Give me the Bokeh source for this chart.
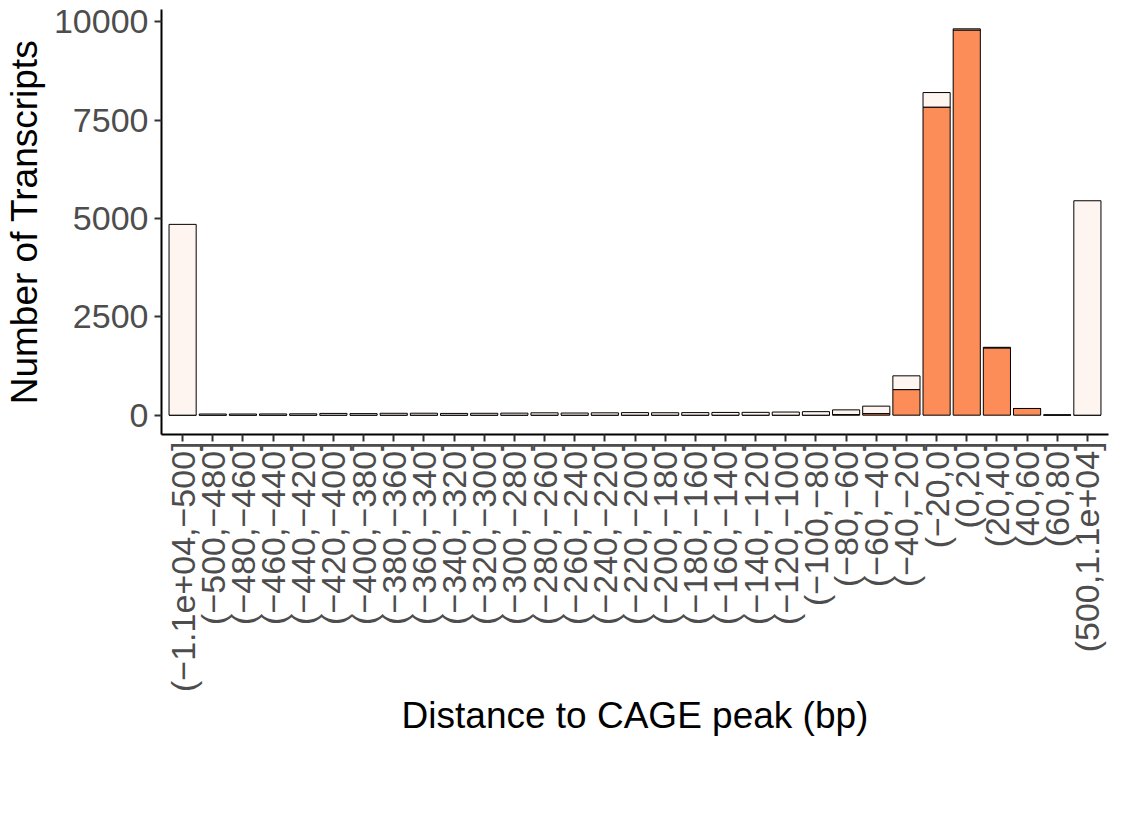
import math
from bokeh.plotting import figure
from bokeh.models import (ColumnDataSource, FactorRange, Range1d, FixedTicker,
                          Legend, LegendItem)
from bokeh.embed import file_html
from bokeh.resources import INLINE

# Distance bins (bp) relative to the nearest CAGE peak
bins = [
    "(−1.1e+04,−500]", "(−500,−480]", "(−480,−460]", "(−460,−440]",
    "(−440,−420]", "(−420,−400]", "(−400,−380]", "(−380,−360]",
    "(−360,−340]", "(−340,−320]", "(−320,−300]", "(−300,−280]",
    "(−280,−260]", "(−260,−240]", "(−240,−220]", "(−220,−200]",
    "(−200,−180]", "(−180,−160]", "(−160,−140]", "(−140,−120]",
    "(−120,−100]", "(−100,−80]", "(−80,−60]", "(−60,−40]",
    "(−40,−20]", "(−20,0]", "(0,20]", "(20,40]", "(40,60]", "(60,80]",
    "(500,1.1e+04]",
]

# Transcript counts per bin, split by whether the TSS lies inside a CAGE peak
false_counts = [4850, 30, 30, 32, 35, 45, 40, 48, 50, 45, 48, 52, 60, 55, 60,
                65, 62, 65, 70, 72, 80, 90, 120, 190, 350, 370, 30, 15, 0, 10,
                5450]
true_counts = [0, 0, 0, 0, 0, 0, 0, 0, 0, 0, 0, 0, 0, 0, 0,
               0, 0, 0, 0, 0, 0, 0, 15, 40, 650, 7830, 9790, 1710, 170, 0,
               0]

y_ticks = [0, 2500, 5000, 7500, 10000]
legend_title = "within_cage_peak"
legend_labels = ["False", "True"]
colors = {"False": "#FFF5F0", "True": "#FC8D59"}

FONT = "Liberation Sans"

src = ColumnDataSource(dict(bin=bins, false_n=false_counts, true_n=true_counts))

totals = [f + t for f, t in zip(false_counts, true_counts)]
ymax = max(totals)

p = figure(
    x_range=FactorRange(*bins, range_padding=0.2, range_padding_units="absolute"),
    y_range=Range1d(-0.05 * ymax, 1.05 * ymax),
    frame_width=947, frame_height=425,
    output_backend="svg", toolbar_location=None,
    min_border_left=160, min_border_right=14, min_border_top=9,
    min_border_bottom=0,
)
p.outline_line_color = None
p.background_fill_color = "white"
p.border_fill_color = "white"
p.xgrid.visible = False
p.ygrid.visible = False

rs = p.vbar_stack(
    ["true_n", "false_n"], x="bin", width=0.9, source=src,
    fill_color=[colors["True"], colors["False"]],
    line_color="black", line_width=1,
)
true_r, false_r = rs

# an empty renderer so the legend title can sit in line with the keys
title_r = p.vbar(x=[], top=[], width=0.9, fill_alpha=0, line_alpha=0)

# axes
for ax in (p.xaxis[0], p.yaxis[0]):
    ax.axis_line_color = "black"
    ax.axis_line_width = 2
    ax.major_tick_line_color = "#333333"
    ax.major_tick_line_width = 2
    ax.major_tick_out = 7
    ax.major_tick_in = 0
    ax.minor_tick_line_color = None
    ax.major_label_text_font = FONT
    ax.major_label_text_font_size = "34px"
    ax.major_label_text_color = "#4D4D4D"
    ax.axis_label_text_font = FONT
    ax.axis_label_text_font_size = "37px"
    ax.axis_label_text_font_style = "normal"
    ax.axis_label_text_color = "black"

p.yaxis.ticker = FixedTicker(ticks=y_ticks)
p.yaxis.axis_label = "Number of Transcripts"
p.yaxis.major_label_standoff = 6
p.yaxis.axis_label_standoff = 6

p.xaxis.axis_label = "Distance to CAGE peak (bp)"
p.xaxis.major_label_orientation = math.pi / 2
p.xaxis.major_label_standoff = 0
p.xaxis.axis_label_standoff = 0

# legend at the bottom: title, then the two keys
legend = Legend(
    items=[LegendItem(label=legend_title, renderers=[title_r]),
           LegendItem(label=legend_labels[0], renderers=[false_r]),
           LegendItem(label=legend_labels[1], renderers=[true_r])],
    orientation="horizontal",
    location="center",
    glyph_width=40, glyph_height=34,
    label_standoff=9, spacing=11,
    padding=0, margin=0,
    border_line_color=None, background_fill_alpha=0,
    label_text_font=FONT, label_text_font_size="22px",
    label_text_color="black",
)
p.add_layout(legend, "below")

open("out.html", "w", encoding="utf-8").write(file_html(p, INLINE))
